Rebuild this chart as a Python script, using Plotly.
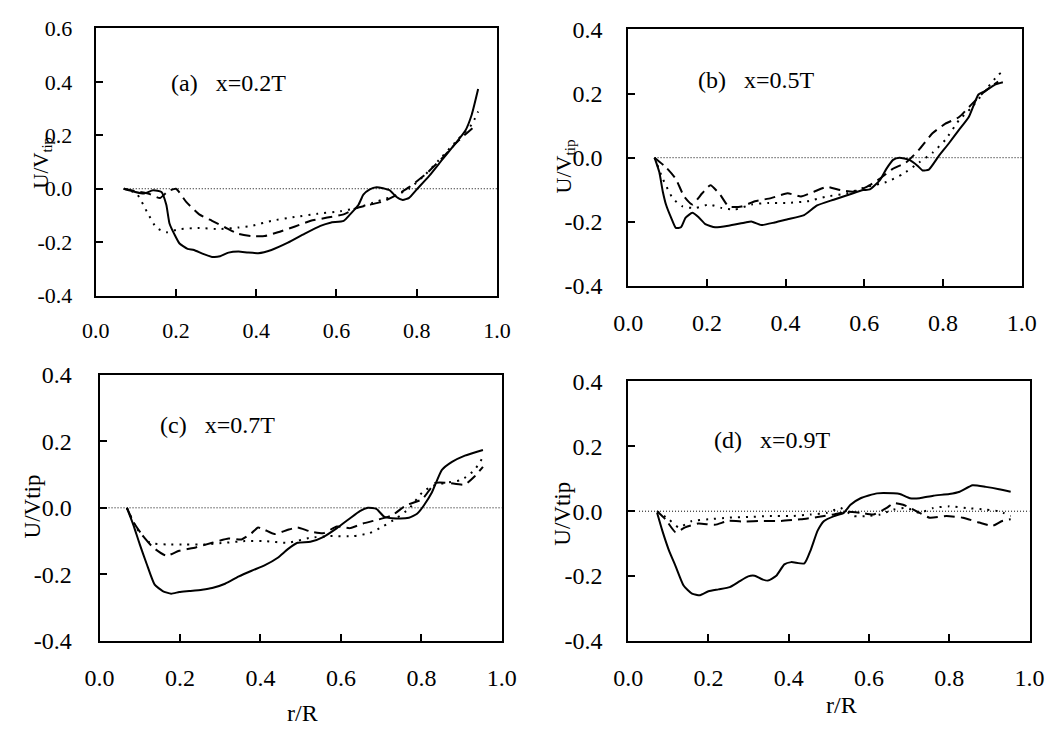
import plotly.graph_objects as go

# ---------------- data ----------------
# Panel (a) x=0.2T
a_solid_x = [0.07, 0.119, 0.143, 0.164, 0.176, 0.184, 0.196, 0.209, 0.229, 0.245, 0.266, 0.29, 0.31, 0.331, 0.356, 0.38, 0.405, 0.438, 0.479, 0.52, 0.56, 0.585, 0.618, 0.634, 0.655, 0.667, 0.683, 0.70, 0.716, 0.733, 0.749, 0.765, 0.781, 0.798, 0.831, 0.863, 0.896, 0.921, 0.937, 0.953]
a_solid_y = [0.0, -0.018, -0.006, -0.012, -0.06, -0.13, -0.17, -0.205, -0.225, -0.229, -0.243, -0.255, -0.253, -0.239, -0.235, -0.239, -0.241, -0.229, -0.202, -0.169, -0.139, -0.127, -0.12, -0.096, -0.06, -0.022, -0.002, 0.006, 0.002, -0.006, -0.03, -0.042, -0.034, -0.006, 0.048, 0.108, 0.169, 0.217, 0.277, 0.373]
a_dash_x = [0.07, 0.11, 0.135, 0.16, 0.18, 0.2, 0.225, 0.258, 0.29, 0.323, 0.356, 0.389, 0.421, 0.454, 0.495, 0.536, 0.577, 0.618, 0.65, 0.683, 0.716, 0.749, 0.781, 0.822, 0.863, 0.904, 0.945]
a_dash_y = [0.0, -0.012, -0.02, -0.035, -0.01, 0.0, -0.048, -0.096, -0.12, -0.145, -0.169, -0.177, -0.177, -0.163, -0.142, -0.12, -0.108, -0.096, -0.072, -0.06, -0.048, -0.024, 0.006, 0.054, 0.114, 0.18, 0.235]
a_dot_x = [0.07, 0.102, 0.127, 0.151, 0.176, 0.209, 0.258, 0.307, 0.356, 0.389, 0.438, 0.495, 0.552, 0.61, 0.65, 0.70, 0.749, 0.781, 0.822, 0.863, 0.904, 0.937, 0.953]
a_dot_y = [0.0, -0.018, -0.084, -0.145, -0.163, -0.151, -0.147, -0.151, -0.145, -0.139, -0.12, -0.106, -0.094, -0.084, -0.072, -0.048, -0.024, 0.0, 0.054, 0.12, 0.187, 0.241, 0.289]

# Panel (b) x=0.5T
b_solid_x = [0.067, 0.079, 0.088, 0.096, 0.109, 0.121, 0.134, 0.146, 0.163, 0.18, 0.196, 0.221, 0.255, 0.297, 0.313, 0.338, 0.372, 0.405, 0.447, 0.48, 0.522, 0.564, 0.597, 0.614, 0.639, 0.656, 0.673, 0.689, 0.714, 0.735, 0.748, 0.764, 0.789, 0.815, 0.84, 0.865, 0.89, 0.906, 0.931, 0.952]
b_solid_y = [0.0, -0.045, -0.106, -0.146, -0.187, -0.219, -0.217, -0.187, -0.172, -0.187, -0.207, -0.217, -0.212, -0.202, -0.199, -0.21, -0.202, -0.192, -0.179, -0.149, -0.131, -0.114, -0.101, -0.099, -0.071, -0.035, -0.007, 0.0, -0.007, -0.025, -0.04, -0.037, 0.005, 0.045, 0.086, 0.126, 0.197, 0.207, 0.227, 0.235]
b_dash_x = [0.067, 0.096, 0.121, 0.142, 0.163, 0.188, 0.209, 0.234, 0.255, 0.288, 0.322, 0.363, 0.405, 0.439, 0.472, 0.505, 0.539, 0.572, 0.606, 0.639, 0.672, 0.706, 0.739, 0.773, 0.806, 0.84, 0.873, 0.906, 0.94]
b_dash_y = [0.0, -0.03, -0.066, -0.121, -0.146, -0.111, -0.086, -0.116, -0.152, -0.152, -0.136, -0.126, -0.111, -0.121, -0.106, -0.091, -0.101, -0.106, -0.091, -0.066, -0.035, -0.015, 0.025, 0.076, 0.106, 0.126, 0.167, 0.207, 0.237]
b_dot_x = [0.067, 0.088, 0.113, 0.138, 0.171, 0.205, 0.238, 0.271, 0.313, 0.355, 0.405, 0.455, 0.505, 0.556, 0.606, 0.656, 0.698, 0.739, 0.773, 0.806, 0.84, 0.873, 0.906, 0.94, 0.957]
b_dot_y = [0.0, -0.066, -0.126, -0.152, -0.157, -0.146, -0.157, -0.162, -0.146, -0.141, -0.141, -0.136, -0.121, -0.111, -0.091, -0.076, -0.051, -0.015, 0.015, 0.056, 0.116, 0.157, 0.207, 0.258, 0.273]

# Panel (c) x=0.7T
c_solid_x = [0.068, 0.084, 0.10, 0.117, 0.137, 0.157, 0.178, 0.198, 0.223, 0.255, 0.28, 0.312, 0.345, 0.378, 0.41, 0.443, 0.468, 0.492, 0.524, 0.557, 0.59, 0.622, 0.647, 0.667, 0.688, 0.708, 0.737, 0.769, 0.79, 0.806, 0.826, 0.851, 0.876, 0.908, 0.953]
c_solid_y = [0.0, -0.051, -0.11, -0.168, -0.231, -0.25, -0.258, -0.253, -0.25, -0.246, -0.241, -0.228, -0.207, -0.189, -0.173, -0.15, -0.124, -0.105, -0.102, -0.087, -0.061, -0.032, -0.01, 0.0, -0.003, -0.027, -0.032, -0.03, -0.017, 0.007, 0.046, 0.114, 0.138, 0.157, 0.174]
c_dash_x = [0.068, 0.084, 0.108, 0.133, 0.166, 0.198, 0.239, 0.28, 0.321, 0.353, 0.378, 0.394, 0.41, 0.435, 0.468, 0.492, 0.524, 0.557, 0.59, 0.622, 0.655, 0.688, 0.728, 0.761, 0.802, 0.835, 0.867, 0.908, 0.932, 0.953]
c_dash_y = [0.0, -0.042, -0.085, -0.119, -0.144, -0.129, -0.119, -0.105, -0.092, -0.095, -0.076, -0.059, -0.066, -0.079, -0.066, -0.059, -0.071, -0.076, -0.056, -0.061, -0.047, -0.037, -0.022, 0.007, 0.026, 0.075, 0.075, 0.07, 0.094, 0.123]
c_dot_x = [0.068, 0.092, 0.125, 0.166, 0.215, 0.263, 0.312, 0.361, 0.41, 0.468, 0.524, 0.573, 0.63, 0.671, 0.704, 0.737, 0.769, 0.802, 0.826, 0.859, 0.90, 0.932, 0.953]
c_dot_y = [0.0, -0.061, -0.105, -0.11, -0.11, -0.11, -0.105, -0.10, -0.10, -0.105, -0.09, -0.085, -0.085, -0.076, -0.056, -0.032, -0.003, 0.046, 0.065, 0.075, 0.084, 0.114, 0.152]

# Panel (d) x=0.9T
d_solid_x = [0.072, 0.085, 0.101, 0.118, 0.138, 0.159, 0.179, 0.20, 0.225, 0.253, 0.274, 0.299, 0.315, 0.332, 0.348, 0.369, 0.389, 0.406, 0.439, 0.455, 0.472, 0.488, 0.513, 0.537, 0.554, 0.579, 0.62, 0.661, 0.677, 0.702, 0.726, 0.76, 0.80, 0.826, 0.858, 0.891, 0.924, 0.953]
d_solid_y = [-0.005, -0.06, -0.119, -0.169, -0.229, -0.254, -0.259, -0.247, -0.241, -0.234, -0.219, -0.201, -0.199, -0.209, -0.214, -0.199, -0.164, -0.157, -0.161, -0.119, -0.06, -0.03, -0.015, -0.005, 0.02, 0.04, 0.055, 0.055, 0.053, 0.04, 0.04, 0.048, 0.053, 0.06, 0.08, 0.075, 0.068, 0.06]
d_dash_x = [0.072, 0.093, 0.118, 0.142, 0.175, 0.216, 0.249, 0.291, 0.332, 0.381, 0.43, 0.472, 0.513, 0.546, 0.579, 0.611, 0.644, 0.661, 0.685, 0.718, 0.751, 0.793, 0.834, 0.875, 0.908, 0.932, 0.953]
d_dash_y = [0.0, -0.025, -0.065, -0.05, -0.038, -0.042, -0.03, -0.032, -0.03, -0.03, -0.025, -0.018, -0.01, -0.002, -0.005, -0.01, 0.01, 0.025, 0.02, 0.0, -0.02, -0.015, -0.02, -0.035, -0.045, -0.03, -0.025]
d_dot_x = [0.072, 0.101, 0.126, 0.159, 0.20, 0.249, 0.299, 0.348, 0.406, 0.455, 0.496, 0.529, 0.562, 0.595, 0.628, 0.661, 0.694, 0.726, 0.76, 0.80, 0.842, 0.891, 0.924, 0.953]
d_dot_y = [0.0, -0.025, -0.05, -0.03, -0.025, -0.02, -0.018, -0.015, -0.015, -0.01, -0.005, 0.01, -0.015, -0.015, -0.01, 0.005, 0.01, -0.005, 0.01, 0.015, 0.01, 0.005, 0.0, -0.015]

# zero reference line start per panel
zero_start = [0.07, 0.067, 0.0, 0.027]
zero_end = 1.0

panel_labels = ["(a)   x=0.2T", "(b)   x=0.5T", "(c)   x=0.7T", "(d)   x=0.9T"]
y_titles = ["U/V<sub>tip</sub>", "U/V<sub>tip</sub>", "U/Vtip", "U/Vtip"]
x_title = "r/R"
x_ticks = [0.0, 0.2, 0.4, 0.6, 0.8, 1.0]
x_ticktext = ["0.0", "0.2", "0.4", "0.6", "0.8", "1.0"]
y_ticks_a = [-0.4, -0.2, 0.0, 0.2, 0.4, 0.6]
y_ticktext_a = ["-0.4", "-0.2", "0.0", "0.2", "0.4", "0.6"]
y_ticks_other = [-0.4, -0.2, 0.0, 0.2, 0.4]
y_ticktext_other = ["-0.4", "-0.2", "0.0", "0.2", "0.4"]

# ---------------- figure ----------------
W, H = 1063, 734
FONT = "Liberation Serif"

# panel plot boxes in pixels: (left, right, top, bottom)
boxes = [(83, 496, 16, 293), (631, 1036, 17, 283), (87, 501, 375, 651), (631, 1044, 382, 651)]
yranges = [[-0.4, 0.6], [-0.4, 0.4], [-0.4, 0.4], [-0.4, 0.4]]
tick_font_sizes = [22, 24, 24, 24]
y_standoff = [17, 19, 21, 19]

panels = [
    (a_solid_x, a_solid_y, a_dash_x, a_dash_y, a_dot_x, a_dot_y),
    (b_solid_x, b_solid_y, b_dash_x, b_dash_y, b_dot_x, b_dot_y),
    (c_solid_x, c_solid_y, c_dash_x, c_dash_y, c_dot_x, c_dot_y),
    (d_solid_x, d_solid_y, d_dash_x, d_dash_y, d_dot_x, d_dot_y),
]

fig = go.Figure()
layout = dict(
    width=W, height=H, margin=dict(l=0, r=0, t=0, b=0),
    paper_bgcolor="white", plot_bgcolor="white", showlegend=False,
    font=dict(family=FONT, color="black"),
)
annotations = []

for i, (sx, sy, dx, dy, px, py) in enumerate(panels):
    n = "" if i == 0 else str(i + 1)
    xa, ya = "x" + n, "y" + n
    l, r, t, b = boxes[i]
    xdom = [l / W, r / W]
    ydom = [1 - b / H, 1 - t / H]

    fig.add_trace(go.Scatter(x=[zero_start[i], zero_end], y=[0, 0], mode="lines",
                             line=dict(color="black", width=1, dash="1px,2px"),
                             xaxis=xa, yaxis=ya, hoverinfo="skip"))
    fig.add_trace(go.Scatter(x=px, y=py, mode="lines",
                             line=dict(color="black", width=2, dash="2px,6px", shape="spline", smoothing=0.5),
                             xaxis=xa, yaxis=ya))
    fig.add_trace(go.Scatter(x=dx, y=dy, mode="lines",
                             line=dict(color="black", width=2, dash="11px,6px", shape="spline", smoothing=0.5),
                             xaxis=xa, yaxis=ya))
    fig.add_trace(go.Scatter(x=sx, y=sy, mode="lines",
                             line=dict(color="black", width=2, shape="spline", smoothing=0.5),
                             xaxis=xa, yaxis=ya))

    fs = tick_font_sizes[i]
    layout["xaxis" + n] = dict(
        domain=xdom, range=[0, 1], anchor=ya, tickvals=x_ticks, ticktext=x_ticktext,
        ticks="inside", ticklen=7, tickwidth=1.5, tickcolor="black",
        showline=True, linecolor="black", linewidth=2, mirror=True,
        showgrid=False, zeroline=False, tickfont=dict(size=fs, family=FONT, color="black"),
        ticklabelstandoff=14, fixedrange=True,
    )
    layout["yaxis" + n] = dict(
        domain=ydom, range=yranges[i], anchor=xa,
        tickvals=y_ticks_a if i == 0 else y_ticks_other,
        ticktext=y_ticktext_a if i == 0 else y_ticktext_other,
        ticks="inside", ticklen=7, tickwidth=1.5, tickcolor="black",
        showline=True, linecolor="black", linewidth=2, mirror=True,
        showgrid=False, zeroline=False, tickfont=dict(size=fs, family=FONT, color="black"),
        ticklabelstandoff=y_standoff[i], fixedrange=True,
    )

# panel labels
label_pos = [(220, 73), (763, 69), (208, 427), (779, 443)]
for (cx, cy), txt in zip(label_pos, panel_labels):
    annotations.append(dict(x=cx / W, y=1 - cy / H, xref="paper", yref="paper", text=txt,
                            showarrow=False, font=dict(size=24, family=FONT, color="black"),
                            xanchor="center", yanchor="middle"))

# y titles
ytitle_pos = [(27, 155), (566, 159), (18, 511), (564, 519)]
ytitle_sizes = [21, 22, 23, 23]
for (cx, cy), txt, s in zip(ytitle_pos, y_titles, ytitle_sizes):
    annotations.append(dict(x=cx / W, y=1 - cy / H, xref="paper", yref="paper", text=txt, textangle=-90,
                            showarrow=False, font=dict(size=s, family=FONT, color="black"),
                            xanchor="center", yanchor="middle"))

# x titles
for cx, cy in [(296, 726), (851, 717)]:
    annotations.append(dict(x=cx / W, y=1 - cy / H, xref="paper", yref="paper", text=x_title,
                            showarrow=False, font=dict(size=24, family=FONT, color="black"),
                            xanchor="center", yanchor="middle"))

layout["annotations"] = annotations
fig.update_layout(**layout)
fig.write_html("out.html")
